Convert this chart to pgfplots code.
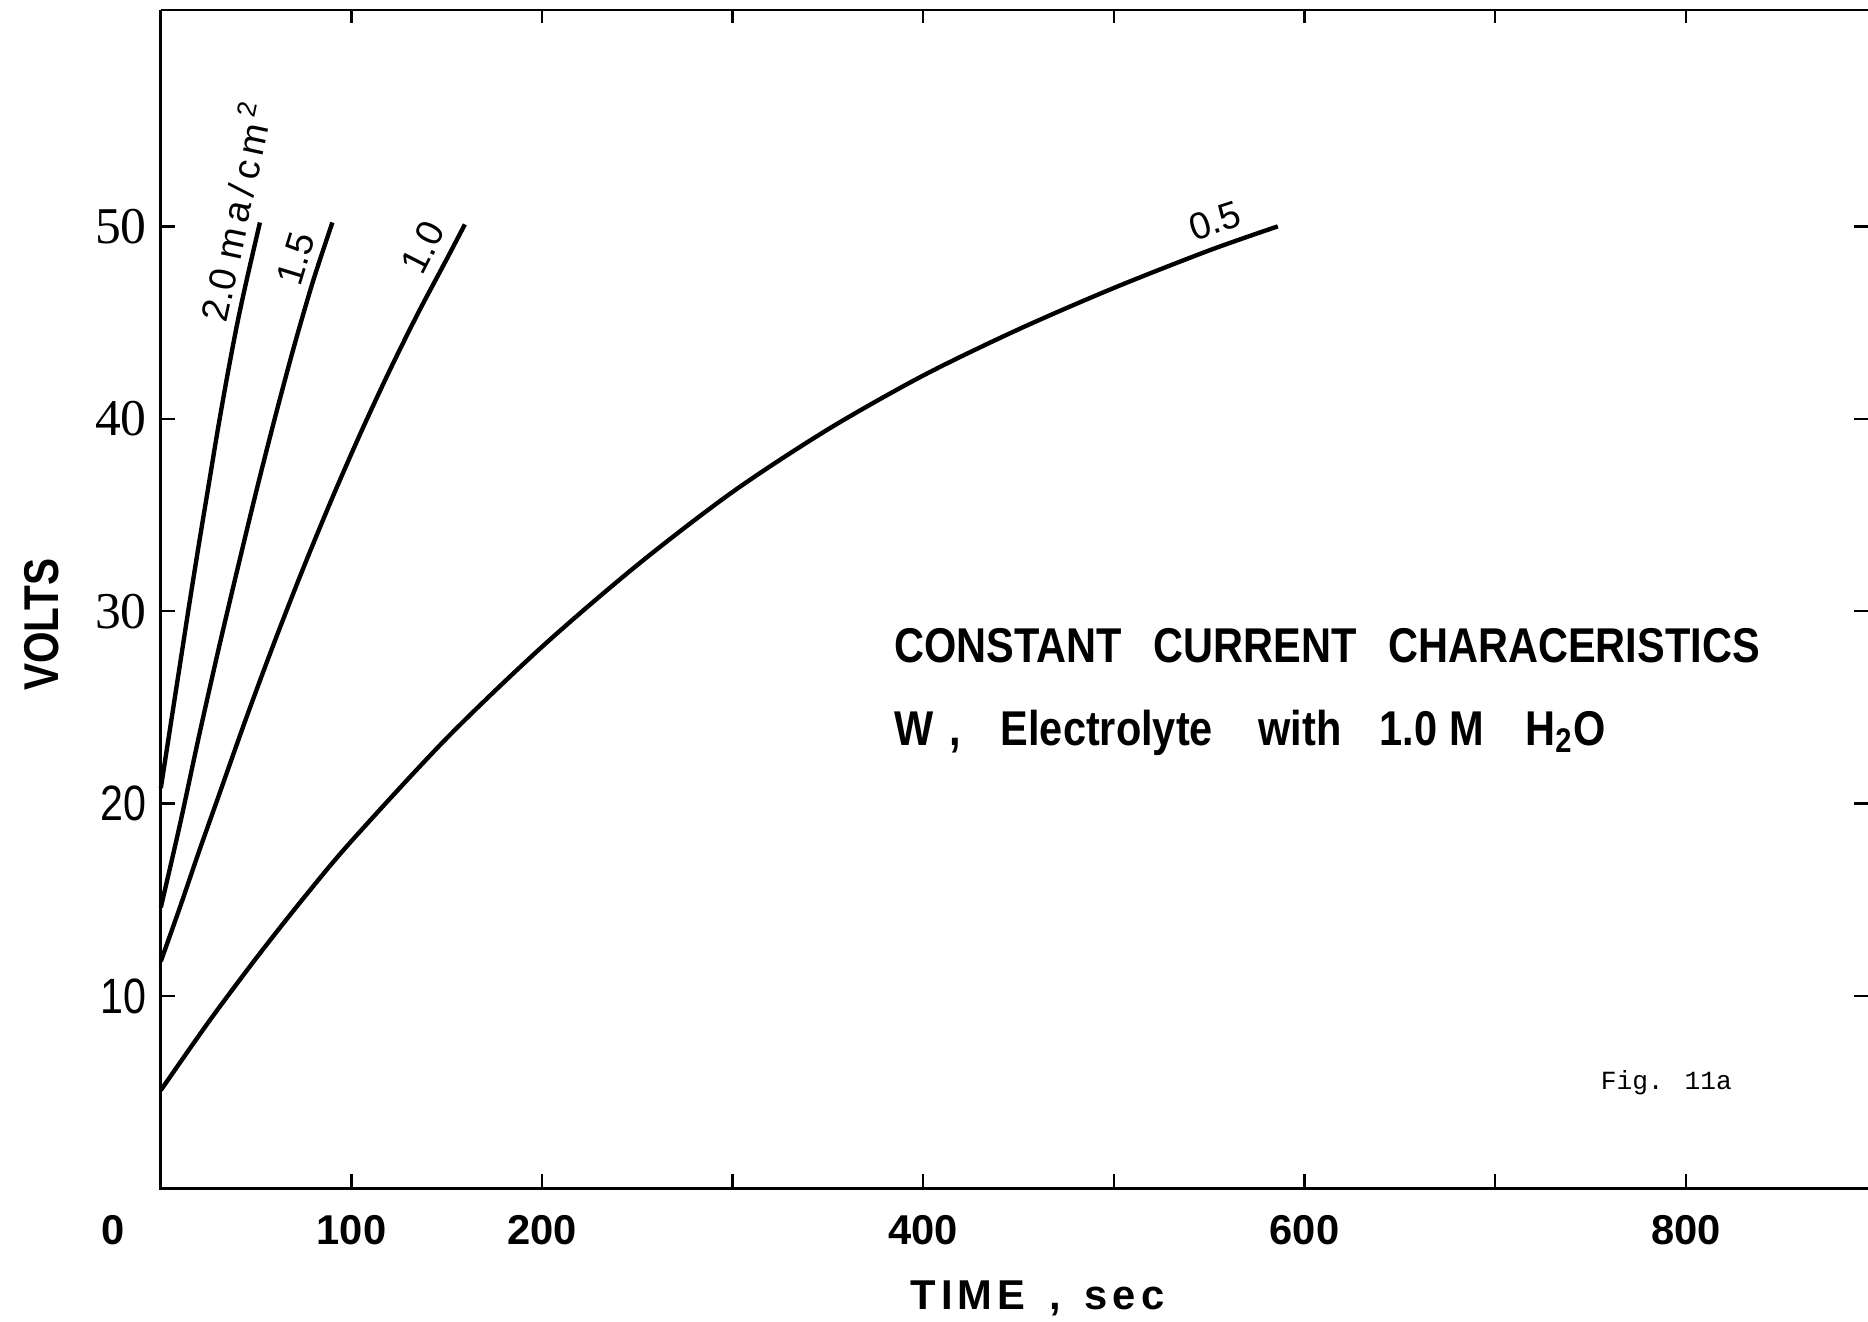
\documentclass[border=0pt]{standalone}
\usepackage{pgfplots}
\pgfplotsset{compat=1.18}
\usepackage{fontspec}
\setmainfont{Liberation Sans}
\newfontfamily\condfont[FakeStretch=0.85]{Liberation Sans}
\newfontfamily\vfont[FakeStretch=0.83]{Liberation Sans}
\newfontfamily\seriffont{Liberation Serif}
\newfontfamily\monofont{Liberation Mono}
\newcommand{\tickfont}{\bfseries\fontsize{10.5}{12}\selectfont}
\newcommand{\sernum}[1]{{\seriffont\fontsize{13}{14}\selectfont #1}}
\newcommand{\sanum}[1]{{\vfont\fontsize{12.5}{14}\selectfont #1}}
\begin{document}
\begin{tikzpicture}
\begin{axis}[
  scale only axis,
  width=429.9pt, height=296.85pt,
  xmin=0, xmax=895.6, ymin=0, ymax=61.27,
  axis line style={draw=none},
  clip=false,
  tick align=inside,
  major tick length=3.5pt,
  tick style={black, line width=0.6pt},
  xtick={100,200,300,400,500,600,700,800},
  xticklabels={100,200,,400,,600,,800},
  xticklabel style={font=\tickfont, anchor=center, yshift=-10.6pt},
  ytick={10,20,30,40,50},
  yticklabels={\sanum{10},\sanum{20},\sernum{30},\sernum{40},\sernum{50}},
  yticklabel style={anchor=east},
]
\coordinate (BL) at (rel axis cs:0,0);
\coordinate (TR) at (rel axis cs:1,1);
\draw[line width=0.7pt] (rel axis cs:0,1) -- (rel axis cs:0,0) -- (rel axis cs:1,0);
\draw[line width=0.5pt] (rel axis cs:0,1) -- (rel axis cs:1,1);

% 2.0 ma/cm^2
\addplot[black, line width=1.1pt, smooth] coordinates {
(0,20.8)(5,24.0)(10,27.2)(15,30.4)(20,33.5)(25,36.5)(30,39.5)(35,42.3)(40,44.9)(45,47.2)(52,50.2)};
% 1.5
\addplot[black, line width=1.1pt, smooth] coordinates {
(0,14.6)(10,18.9)(20,23.5)(30,27.9)(40,32.1)(50,36.2)(60,40.1)(70,43.8)(80,47.2)(90,50.2)};
% 1.0
\addplot[black, line width=1.1pt, smooth] coordinates {
(0,11.8)(10,14.6)(20,17.5)(30,20.3)(45,24.5)(60,28.5)(75,32.3)(90,35.9)(105,39.3)(120,42.5)(135,45.5)(150,48.3)(159.5,50.1)};
% 0.5
\addplot[black, line width=1.1pt, smooth] coordinates {
(0,5.1)(25,8.64)(50,11.96)(75,15.1)(100,18.05)(150,23.4)(200,28.15)(250,32.4)(300,36.2)(350,39.45)(400,42.25)(450,44.65)(500,46.8)(550,48.75)(586,50.0)};

% curve labels
\node[rotate=78, font=\fontsize{9.5}{11}\selectfont] at (axis cs:38.3,50.8) {2.0 m\,a\,/\,c\,m\textsuperscript{\,2}};
\node[rotate=73, font=\fontsize{9.5}{11}\selectfont] at (axis cs:71,48.3) {1.5};
\node[rotate=63, font=\fontsize{9.5}{11}\selectfont] at (axis cs:137.5,48.9) {1.0};
\node[rotate=18, font=\fontsize{9.5}{11}\selectfont] at (axis cs:553,50.3) {0.5};

% texts
\node[anchor=west, inner sep=0pt, font=\condfont\bfseries\fontsize{12.3}{14}\selectfont] at (axis cs:384.4,28.2)
  {CONSTANT\hspace{8pt}CURRENT\hspace{8pt}CHARACERISTICS};
\node[anchor=west, inner sep=0pt, font=\condfont\bfseries\fontsize{12.3}{14}\selectfont] at (axis cs:384.4,23.7)
  {W\hspace{4pt},\hspace{10pt}Electrolyte\hspace{11.5pt}with\hspace{9.5pt}1.0\hspace{3pt}M\hspace{10.5pt}H\textsubscript{2}O};
\node[anchor=west, inner sep=0pt, font=\monofont\fontsize{6.6}{8}\selectfont] at (axis cs:755,5.5) {Fig. 11a};
\node[font=\tickfont\addfontfeature{LetterSpace=12}] at (axis cs:460,-5.7) {TIME\hspace{6pt},\hspace{6pt}sec};
\node[rotate=90, font=\vfont\bfseries\fontsize{12.3}{14}\selectfont] at (axis cs:-62.5,29.3) {VOLTS};
\node[font=\tickfont] at ([yshift=-10.6pt]axis cs:-25,0) {0};
\end{axis}
\pgfresetboundingbox
\path[use as bounding box] ([xshift=-40.5pt,yshift=-33.45pt]BL) rectangle ([yshift=2.4pt]TR);
\end{tikzpicture}
\end{document}
